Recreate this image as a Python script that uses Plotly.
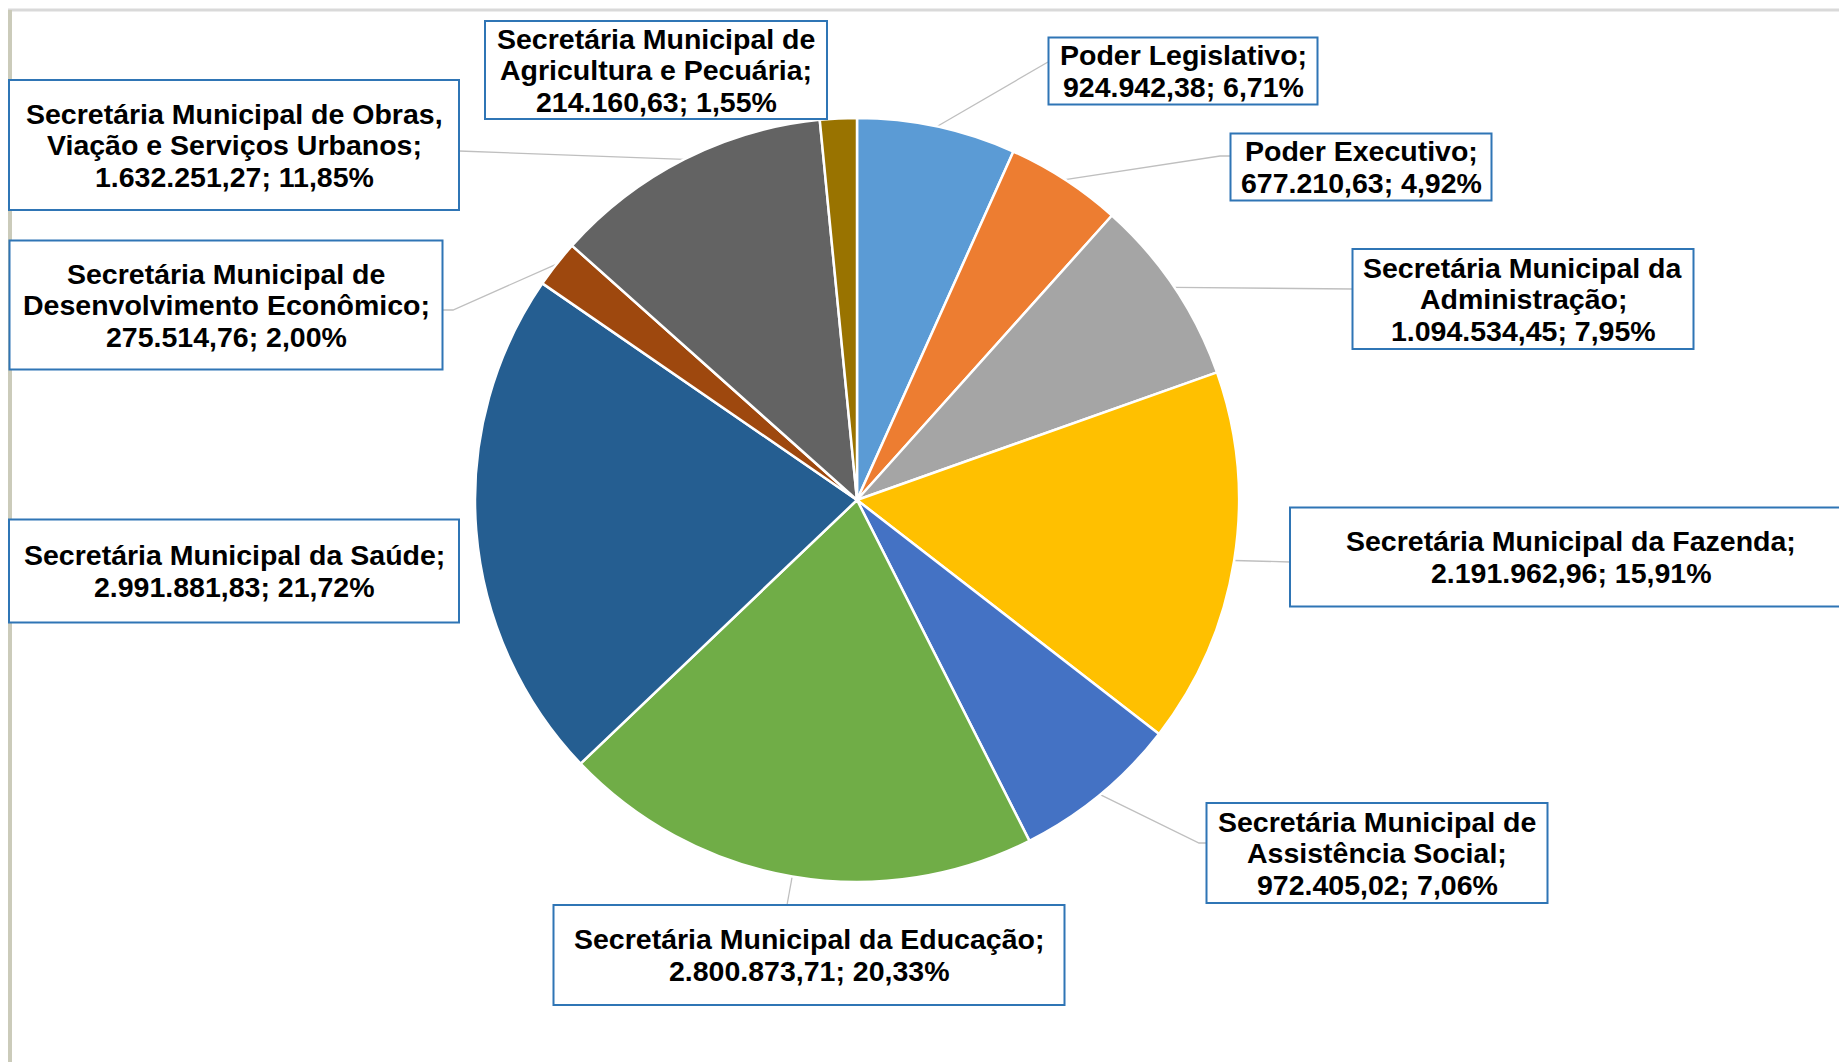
import math
import plotly.graph_objects as go

W, H = 1847, 1062
OFF = 8  # page body margin offset compensation

# ---------------- data ----------------
categories = [
    "Poder Legislativo",
    "Poder Executivo",
    "Secretária Municipal da Administração",
    "Secretária Municipal da Fazenda",
    "Secretária Municipal de Assistência Social",
    "Secretária Municipal da Educação",
    "Secretária Municipal da Saúde",
    "Secretária Municipal de Desenvolvimento Econômico",
    "Secretária Municipal de Obras, Viação e Serviços Urbanos",
    "Secretária Municipal de Agricultura e Pecuária",
]
label_names = [
    "Poder Legislativo",
    "Poder Executivo",
    "Secretária Municipal da<br>Administração",
    "Secretária Municipal da Fazenda",
    "Secretária Municipal de<br>Assistência Social",
    "Secretária Municipal da Educação",
    "Secretária Municipal da Saúde",
    "Secretária Municipal de<br>Desenvolvimento Econômico",
    "Secretária Municipal de Obras,<br>Viação e Serviços Urbanos",
    "Secretária Municipal de<br>Agricultura e Pecuária",
]
values = [924942.38, 677210.63, 1094534.45, 2191962.96, 972405.02,
          2800873.71, 2991881.83, 275514.76, 1632251.27, 214160.63]
colors = ["#5B9BD5", "#ED7D31", "#A5A5A5", "#FFC000", "#4472C4",
          "#70AD47", "#255E91", "#9E480E", "#636363", "#997300"]

# ---------------- layout constants (screen pixels) ----------------
CX, CY, R = 857, 500, 382
LINE_PITCH = 31.5
FONT_SIZE = 28.5
# label box: center x, center y, width, height
boxes = [
    (1183, 71, 269, 67),
    (1361, 167, 261, 67),
    (1523, 299, 341, 100),
    (1571, 557, 562, 99),
    (1377, 853, 341, 100),
    (809, 955, 511, 100),
    (234, 571, 450, 103),
    (226, 305, 433, 129),
    (234, 145, 450, 130),
    (656, 70, 342, 98),
]
# leader line points after the slice edge point (None = no line)
leaders = [
    [(1048, 62)],
    [(1220, 156), (1230, 156)],
    [(1352, 289)],
    [(1281, 562), (1290, 562)],
    [(1199, 843), (1207, 843)],
    [(787, 905)],
    None,
    [(453, 310), (442, 310)],
    [(459, 151)],
    None,
]


def br_fmt(v, dec=2):
    s = f"{v:,.{dec}f}"
    return s.replace(",", "X").replace(".", ",").replace("X", ".")


total = sum(values)

fig = go.Figure()

fig.add_trace(go.Pie(
    labels=categories,
    values=values,
    sort=False,
    direction="clockwise",
    rotation=0,
    marker=dict(colors=colors, line=dict(color="white", width=2.5)),
    textinfo="none",
    hoverinfo="label+value+percent",
    showlegend=False,
    domain=dict(x=[(CX - OFF - R) / W, (CX - OFF + R) / W],
                y=[1 - (CY - OFF + R) / H, 1 - (CY - OFF - R) / H]),
))

# leader lines
cum = 0.0
for i, v in enumerate(values):
    mid = (cum + v / 2) / total * 2 * math.pi
    cum += v
    if leaders[i] is None:
        continue
    ex = CX + R * math.sin(mid)
    ey = CY - R * math.cos(mid)
    pts = [(ex, ey)] + leaders[i]
    fig.add_trace(go.Scatter(
        x=[p[0] for p in pts], y=[p[1] for p in pts],
        mode="lines", line=dict(color="#BFBFBF", width=1.3),
        hoverinfo="skip", showlegend=False,
    ))

# label boxes
font = dict(family="Liberation Sans, Arial, sans-serif", size=FONT_SIZE,
            color="black", weight="bold")
for i, v in enumerate(values):
    bx, by, bw, bh = boxes[i]
    fig.add_shape(type="rect", xref="x", yref="y",
                  x0=bx - bw / 2, x1=bx + bw / 2, y0=by - bh / 2, y1=by + bh / 2,
                  fillcolor="white", line=dict(color="#2F75B5", width=2),
                  layer="above")
    lines = label_names[i].split("<br>")
    lines[-1] = lines[-1] + ";"
    lines.append(f"{br_fmt(v)}; {br_fmt(v / total * 100)}%")
    n = len(lines)
    for k, ln in enumerate(lines):
        ly = by + (k - (n - 1) / 2) * LINE_PITCH
        fig.add_annotation(
            x=bx, y=ly, xref="x", yref="y",
            xanchor="center", yanchor="middle",
            text=ln, showarrow=False, align="center",
            font=font,
        )

# frame lines (top and left)
fig.add_shape(type="line", x0=5, x1=W + OFF, y0=10, y1=10, xref="x", yref="y",
              line=dict(color="#D9D9D9", width=3), layer="below")
fig.add_shape(type="rect", x0=OFF, x1=OFF + 4, y0=10, y1=H + OFF, xref="x", yref="y",
              fillcolor="#CBCBBA", line=dict(width=0), layer="below")

fig.update_layout(
    width=W, height=H,
    margin=dict(l=0, r=0, t=0, b=0),
    paper_bgcolor="white", plot_bgcolor="rgba(0,0,0,0)",
    xaxis=dict(range=[OFF, W + OFF], visible=False, domain=[0, 1], fixedrange=True),
    yaxis=dict(range=[H + OFF, OFF], visible=False, domain=[0, 1], fixedrange=True),
    showlegend=False,
)

fig.write_html("out.html")
